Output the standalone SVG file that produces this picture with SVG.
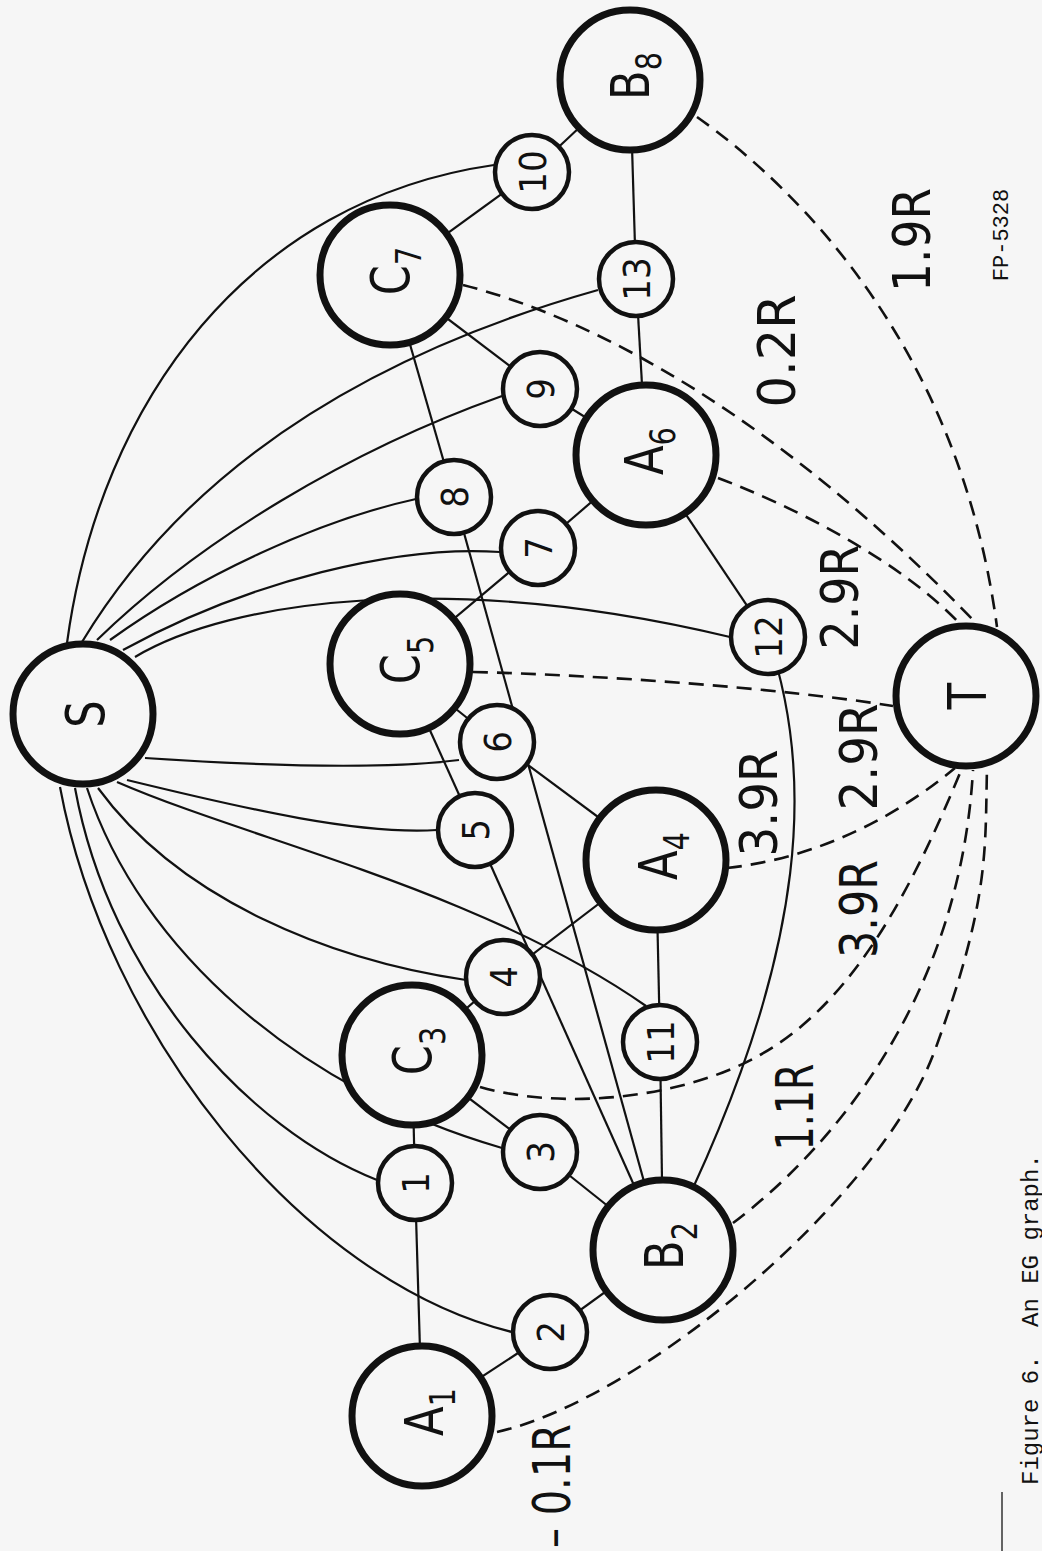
<svg xmlns="http://www.w3.org/2000/svg" width="1042" height="1551" viewBox="0 0 1042 1551">
<style>
.bg{fill:#f6f6f6}
.big{fill:#f6f6f6;stroke:#111;stroke-width:7}
.sm{fill:#f6f6f6;stroke:#111;stroke-width:4.5}
.e{fill:none;stroke:#111;stroke-width:2.2}
.d{fill:none;stroke:#111;stroke-width:2.6;stroke-dasharray:15 9}
.rule{fill:none;stroke:#333;stroke-width:1.5}
.bl{font-family:"DejaVu Sans","Liberation Sans",sans-serif;font-size:54px;fill:#111;text-anchor:middle}
.sub{font-size:36px}
.dg{font-family:"DejaVu Sans","Liberation Sans",sans-serif;font-size:38px;fill:#111;text-anchor:middle}
.el{font-family:"DejaVu Sans","Liberation Sans",sans-serif;font-size:52px;fill:#111;text-anchor:middle}
.fp{font-family:"Liberation Mono",monospace;font-size:22px;fill:#111;text-anchor:middle}
.cap{font-family:"Liberation Mono","Courier New",monospace;font-size:24px;fill:#111}
</style>
<rect class="bg" x="0" y="0" width="1042" height="1551"/>
<g id="connectors">
<path class="e" d="M422,1416 L415,1183"/>
<path class="e" d="M415,1183 L412,1055"/>
<path class="e" d="M422,1416 L550,1332"/>
<path class="e" d="M550,1332 L663,1250"/>
<path class="e" d="M412,1055 L540,1152"/>
<path class="e" d="M540,1152 L663,1250"/>
<path class="e" d="M412,1055 L503,977"/>
<path class="e" d="M503,977 L656,860"/>
<path class="e" d="M400,664 L475,830"/>
<path class="e" d="M475,830 L663,1250"/>
<path class="e" d="M400,664 L497,742"/>
<path class="e" d="M497,742 L656,860"/>
<path class="e" d="M400,664 L538,548"/>
<path class="e" d="M538,548 L646,455"/>
<path class="e" d="M390,275 L454,497"/>
<path class="e" d="M454,497 L663,1250"/>
<path class="e" d="M390,275 L540,389"/>
<path class="e" d="M540,389 L646,455"/>
<path class="e" d="M390,275 L532,172"/>
<path class="e" d="M532,172 L630,80"/>
<path class="e" d="M656,860 L660,1042"/>
<path class="e" d="M660,1042 L663,1250"/>
<path class="e" d="M646,455 L768,637"/>
<path class="e" d="M768,637 C810,760 820,940 663,1250"/>
<path class="e" d="M646,455 L636,279"/>
<path class="e" d="M636,279 L630,80"/>
<path class="e" d="M67,643 C100,400 250,200 494,165"/>
<path class="e" d="M82,642 C180,480 350,360 598,290"/>
<path class="e" d="M97,640 C200,540 350,450 502,396"/>
<path class="e" d="M110,640 C200,575 320,520 416,499"/>
<path class="e" d="M123,650 C250,580 400,545 500,552"/>
<path class="e" d="M135,657 C230,600 450,570 730,637"/>
<path class="e" d="M145,758 C250,765 380,770 459,760"/>
<path class="e" d="M127,780 C250,810 360,835 437,830"/>
<path class="e" d="M117,782 C250,840 480,890 646,1006"/>
<path class="e" d="M98,788 C180,900 330,960 466,980"/>
<path class="e" d="M87,788 C140,950 300,1090 502,1148"/>
<path class="e" d="M75,788 C110,980 250,1130 377,1180"/>
<path class="e" d="M60,787 C105,1030 300,1280 512,1332"/>
<path class="d" d="M497,1432 C640,1400 880,1200 935,1050 C990,900 985,850 987,767"/>
<path class="d" d="M733,1223 C830,1150 960,1000 973,770"/>
<path class="d" d="M480,1087 C560,1110 680,1100 760,1055 S900,920 962,768"/>
<path class="d" d="M727,868 C800,860 880,830 955,768"/>
<path class="d" d="M473,672 C600,675 780,688 893,706"/>
<path class="d" d="M718,478 C790,505 900,560 960,624"/>
<path class="d" d="M463,285 C600,320 780,420 975,622"/>
<path class="d" d="M697,117 C800,190 960,350 997,627"/>
</g>
<g id="S"><circle class="big" cx="83" cy="714" r="70"/><text class="bl" transform="translate(104 714) rotate(-90) scale(0.8 1)">S</text></g>
<g id="T"><circle class="big" cx="966" cy="696" r="70"/><text class="bl" transform="translate(986 696) rotate(-90) scale(0.8 1)">T</text></g>
<g id="A1"><circle class="big" cx="422" cy="1416" r="70"/><text class="bl" transform="translate(443 1412) rotate(-90) scale(0.8 1)">A<tspan class="sub" dy="12">1</tspan></text></g>
<g id="B2"><circle class="big" cx="663" cy="1250" r="70"/><text class="bl" transform="translate(683 1246) rotate(-90) scale(0.8 1)">B<tspan class="sub" dy="14">2</tspan></text></g>
<g id="C3"><circle class="big" cx="412" cy="1055" r="70"/><text class="bl" transform="translate(431 1051) rotate(-90) scale(0.8 1)">C<tspan class="sub" dy="14">3</tspan></text></g>
<g id="A4"><circle class="big" cx="656" cy="860" r="70"/><text class="bl" transform="translate(677 856) rotate(-90) scale(0.8 1)">A<tspan class="sub" dy="12">4</tspan></text></g>
<g id="C5"><circle class="big" cx="400" cy="664" r="70"/><text class="bl" transform="translate(419 660) rotate(-90) scale(0.8 1)">C<tspan class="sub" dy="14">5</tspan></text></g>
<g id="A6"><circle class="big" cx="646" cy="455" r="70"/><text class="bl" transform="translate(663 451) rotate(-90) scale(0.8 1)">A<tspan class="sub" dy="12">6</tspan></text></g>
<g id="C7"><circle class="big" cx="390" cy="275" r="70"/><text class="bl" transform="translate(409 271) rotate(-90) scale(0.8 1)">C<tspan class="sub" dy="12">7</tspan></text></g>
<g id="B8"><circle class="big" cx="630" cy="80" r="70"/><text class="bl" transform="translate(649 76) rotate(-90) scale(0.8 1)">B<tspan class="sub" dy="12">8</tspan></text></g>
<g id="n1"><circle class="sm" cx="415" cy="1183" r="37"/><text class="dg" transform="translate(429 1183) rotate(-90) scale(0.9 1)">1</text></g>
<g id="n2"><circle class="sm" cx="550" cy="1332" r="37"/><text class="dg" transform="translate(564 1332) rotate(-90) scale(0.9 1)">2</text></g>
<g id="n3"><circle class="sm" cx="540" cy="1152" r="37"/><text class="dg" transform="translate(554 1152) rotate(-90) scale(0.9 1)">3</text></g>
<g id="n4"><circle class="sm" cx="503" cy="977" r="37"/><text class="dg" transform="translate(517 977) rotate(-90) scale(0.9 1)">4</text></g>
<g id="n5"><circle class="sm" cx="475" cy="830" r="37"/><text class="dg" transform="translate(489 830) rotate(-90) scale(0.9 1)">5</text></g>
<g id="n6"><circle class="sm" cx="497" cy="742" r="37"/><text class="dg" transform="translate(511 742) rotate(-90) scale(0.9 1)">6</text></g>
<g id="n7"><circle class="sm" cx="538" cy="548" r="37"/><text class="dg" transform="translate(552 548) rotate(-90) scale(0.9 1)">7</text></g>
<g id="n8"><circle class="sm" cx="454" cy="497" r="37"/><text class="dg" transform="translate(468 497) rotate(-90) scale(0.9 1)">8</text></g>
<g id="n9"><circle class="sm" cx="540" cy="389" r="37"/><text class="dg" transform="translate(554 389) rotate(-90) scale(0.9 1)">9</text></g>
<g id="n10"><circle class="sm" cx="532" cy="172" r="37"/><text class="dg" transform="translate(546 172) rotate(-90) scale(0.9 1)">10</text></g>
<g id="n11"><circle class="sm" cx="660" cy="1042" r="37"/><text class="dg" transform="translate(674 1042) rotate(-90) scale(0.9 1)">11</text></g>
<g id="n12"><circle class="sm" cx="768" cy="637" r="37"/><text class="dg" transform="translate(782 637) rotate(-90) scale(0.9 1)">12</text></g>
<g id="n13"><circle class="sm" cx="636" cy="279" r="37"/><text class="dg" transform="translate(650 279) rotate(-90) scale(0.9 1)">13</text></g>
<g id="labels">
<text class="el" transform="translate(570 1486) rotate(-90)" textLength="124" lengthAdjust="spacingAndGlyphs">– 0.1R</text>
<text class="el" transform="translate(813 1107) rotate(-90)" textLength="87" lengthAdjust="spacingAndGlyphs">1.1R</text>
<text class="el" transform="translate(877 909) rotate(-90)" textLength="98" lengthAdjust="spacingAndGlyphs">3.9R</text>
<text class="el" transform="translate(777 803) rotate(-90)" textLength="107" lengthAdjust="spacingAndGlyphs">3.9R</text>
<text class="el" transform="translate(877 757) rotate(-90)" textLength="107" lengthAdjust="spacingAndGlyphs">2.9R</text>
<text class="el" transform="translate(858 597) rotate(-90)" textLength="105" lengthAdjust="spacingAndGlyphs">2.9R</text>
<text class="el" transform="translate(795 351) rotate(-90)" textLength="113" lengthAdjust="spacingAndGlyphs">0.2R</text>
<text class="el" transform="translate(930 240) rotate(-90)" textLength="104" lengthAdjust="spacingAndGlyphs">1.9R</text>
<text class="fp" transform="translate(1008 235) rotate(-90)">FP-5328</text>
<path class="rule" d="M1002,1551 L1002,1492"/>
<text class="cap" transform="translate(1038 1485) rotate(-90)">Figure 6.</text>
<text class="cap" transform="translate(1038 1327) rotate(-90)">An EG graph.</text>
</g>
</svg>
